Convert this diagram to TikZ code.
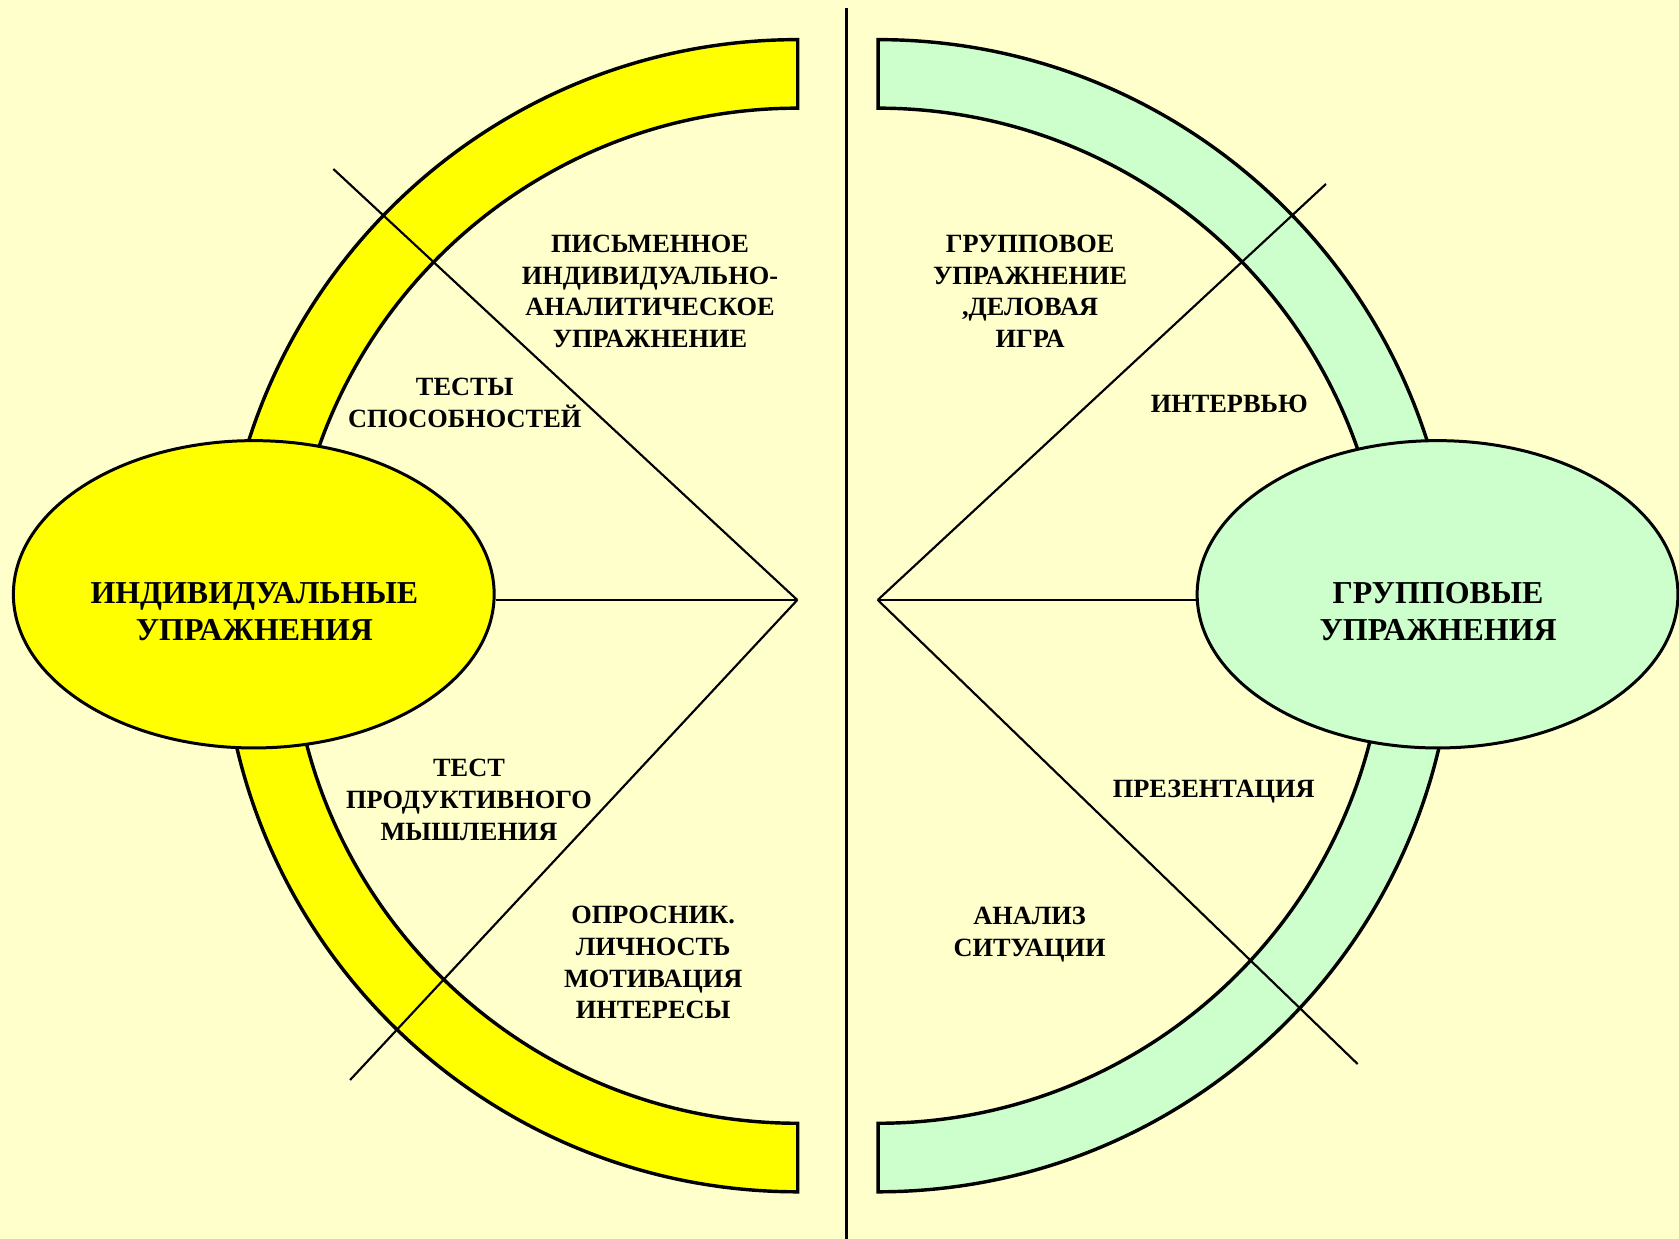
\documentclass[tikz,border=0pt]{standalone}
\usepackage{fontspec}
\setmainfont{Liberation Serif}
\usetikzlibrary{shapes.geometric}
\definecolor{paper}{HTML}{FFFFCC}
\definecolor{lemon}{HTML}{FFFF00}
\definecolor{mint}{HTML}{CCFFCC}
\tikzset{
  band/.style={draw=black, line width=1.6pt, line join=miter},
  oval/.style={ellipse, draw=black, line width=1.4pt, minimum width=224.5pt,
               minimum height=143.5pt, inner sep=0pt},
  lbl/.style={align=center, inner sep=0pt, font=\bfseries\fontsize{12.3}{14.8}\selectfont},
  biglbl/.style={align=center, inner sep=0pt, font=\bfseries\fontsize{14.9}{17.1}\selectfont},
  spoke/.style={line width=1pt, color=black},
  divider/.style={line width=1.3pt, color=black}}

\begin{document}
\begin{tikzpicture}[x=0.5pt, y=-0.5pt]
  \fill[paper] (0,0) rectangle (1568,1157);
  \useasboundingbox (0,0) rectangle (1568,1157);
  % half rings
  \path[band, fill=lemon] (745,37) arc[start angle=90, end angle=270, radius=269pt]
    -- (745,1049) arc[start angle=270, end angle=90, radius=237pt] -- cycle;
  \path[band, fill=mint] (820,37) arc[start angle=90, end angle=-90, radius=269pt]
    -- (820,1049) arc[start angle=-90, end angle=90, radius=237pt] -- cycle;
  % hubs and spoke ends
  \coordinate (lhub) at (744.6,560.3);
  \coordinate (rhub) at (819.7,560.3);
  \coordinate (ltip) at (311.3,157.8);
  \coordinate (lbot) at (326.9,1008.6);
  \coordinate (rtip) at (1238.3,171.8);
  \coordinate (rbot) at (1267.9,993.7);
  \draw[spoke] (lhub) -- (ltip);
  \draw[spoke] (lhub) -- (lbot);
  \draw[spoke] (rhub) -- (rtip);
  \draw[spoke] (rhub) -- (rbot);
  % ovals
  \node[oval, fill=lemon] (indiv) at (237,555) {};
  \node[oval, fill=mint] (group) at (1342.5,555) {};
  \draw[spoke] (lhub) -- (lhub -| indiv.east);
  \draw[spoke] (rhub) -- (rhub -| group.west);
  \node[biglbl] (indivtxt) at (237.5,571) {ИНДИВИДУАЛЬНЫЕ\\УПРАЖНЕНИЯ};
  \node[biglbl] (grouptxt) at (1343,571) {ГРУППОВЫЕ\\УПРАЖНЕНИЯ};
  % sector labels
  \node[lbl] (written) at (607,272) {ПИСЬМЕННОЕ\\ИНДИВИДУАЛЬНО-\\АНАЛИТИЧЕСКОЕ\\УПРАЖНЕНИЕ};
  \node[lbl] (ability) at (434,376) {ТЕСТЫ\\СПОСОБНОСТЕЙ};
  \node[lbl] (thinking) at (438,747) {ТЕСТ\\ПРОДУКТИВНОГО\\МЫШЛЕНИЯ};
  \node[lbl] (survey) at (610,899) {ОПРОСНИК.\\ЛИЧНОСТЬ\\МОТИВАЦИЯ\\ИНТЕРЕСЫ};
  \node[lbl] (game) at (962,272) {ГРУППОВОЕ\\УПРАЖНЕНИЕ\\,ДЕЛОВАЯ\\ИГРА};
  \node[lbl] (interview) at (1148,377) {ИНТЕРВЬЮ};
  \node[lbl] (present) at (1133.5,739) {ПРЕЗЕНТАЦИЯ};
  \node[lbl] (case) at (961.5,873) {АНАЛИЗ\\СИТУАЦИИ};
  % divider
  \coordinate (dtop) at (790.7,7.8);
  \coordinate (dbot) at (790.7,1157);
  \draw[divider] (dtop) -- (dbot);
\end{tikzpicture}
\end{document}
